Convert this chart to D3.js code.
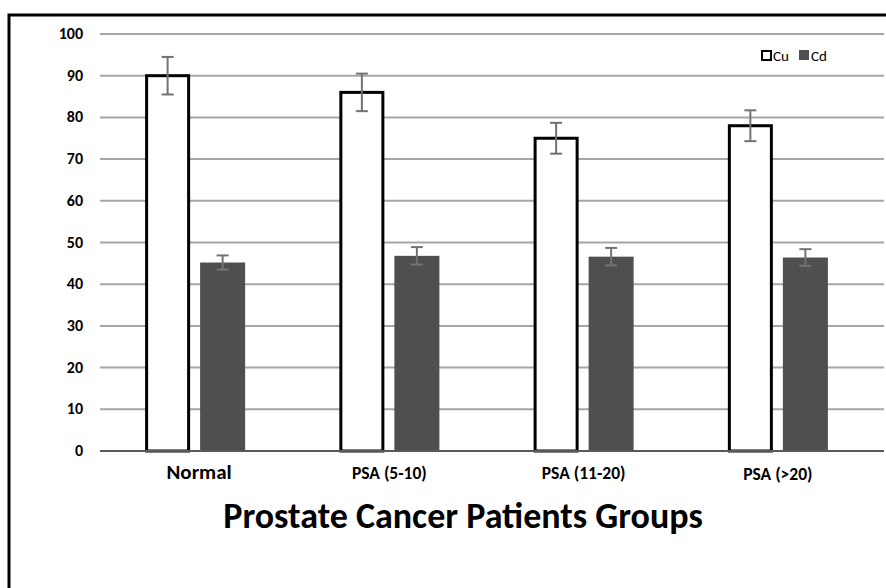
<!DOCTYPE html>
<html>
<head>
<style>
    body { margin: 0; background: #fff; }
    svg text { font-family: Carlito, "Open Sans", sans-serif; font-weight: bold; fill: #000; }
</style>
<script src="https://d3js.org/d3.v7.min.js"></script>
</head>
<body>
<svg width="886" height="588"></svg>
<script>
    var groups = ["Normal", "PSA (5-10)", "PSA (11-20)", "PSA (>20)"];
    var seriesNames = ["Cu", "Cd"];
    var cuValues = [90, 86, 75, 78];
    var cuErrors = [4.5, 4.5, 3.7, 3.7];
    var cdValues = [45.2, 46.8, 46.6, 46.4];
    var cdErrors = [1.7, 2.1, 2.1, 2.0];
    var yTicks = [0, 10, 20, 30, 40, 50, 60, 70, 80, 90, 100];

    var svg = d3.select("svg");

    // frame (right and bottom edges fall outside the picture)
    svg.append("path")
        .attr("d", "M9,600 L9,15 L890,15")
        .attr("fill", "none")
        .attr("stroke", "#000")
        .attr("stroke-width", 3);

    var x0 = d3.scaleBand().domain(groups).range([98, 875]).paddingInner(0.485).paddingOuter(0.2425);
    var x1 = d3.scaleBand().domain(seriesNames).range([0, x0.bandwidth()]).paddingInner(0.1818);
    var y = d3.scaleLinear().domain([0, 100]).range([451, 34]);

    // gridlines
    svg.append("g").selectAll("line")
        .data(yTicks.filter(function (d) { return d > 0; }))
        .enter().append("line")
        .attr("x1", 100).attr("x2", 884)
        .attr("y1", function (d) { return y(d); })
        .attr("y2", function (d) { return y(d); })
        .attr("stroke", "#a6a6a6")
        .attr("stroke-width", 2);

    // y tick labels
    svg.append("g").selectAll("text")
        .data(yTicks)
        .enter().append("text")
        .attr("x", 83)
        .attr("y", function (d) { return y(d) + 5; })
        .attr("text-anchor", "end")
        .style("font-size", "16px")
        .text(function (d) { return d; });

    var data = groups.map(function (g, i) {
        return [
            { group: g, key: "Cu", value: cuValues[i], err: cuErrors[i] },
            { group: g, key: "Cd", value: cdValues[i], err: cdErrors[i] }
        ];
    });

    var bars = svg.append("g");
    data.forEach(function (pair) {
        pair.forEach(function (d) {
            var bx = x0(d.group) + x1(d.key);
            if (d.key === "Cu") {
                bars.append("rect")
                    .attr("x", bx + 1.5)
                    .attr("y", y(d.value))
                    .attr("width", x1.bandwidth() - 3)
                    .attr("height", y(0) - y(d.value))
                    .attr("fill", "#fff")
                    .attr("stroke", "#000")
                    .attr("stroke-width", 3);
            } else {
                bars.append("rect")
                    .attr("x", bx)
                    .attr("y", y(d.value))
                    .attr("width", x1.bandwidth())
                    .attr("height", y(0) - y(d.value))
                    .attr("fill", "#4f4f51");
            }
        });
    });

    // x axis line
    svg.append("line")
        .attr("x1", 100).attr("x2", 884)
        .attr("y1", y(0)).attr("y2", y(0))
        .attr("stroke", "#595959")
        .attr("stroke-width", 2);

    // error bars
    var errs = svg.append("g").attr("stroke", "#737373").attr("stroke-width", 2);
    data.forEach(function (pair) {
        pair.forEach(function (d) {
            var cx = x0(d.group) + x1(d.key) + x1.bandwidth() / 2;
            errs.append("line").attr("x1", cx).attr("x2", cx)
                .attr("y1", y(d.value + d.err)).attr("y2", y(d.value - d.err));
            [d.value + d.err, d.value - d.err].forEach(function (v) {
                errs.append("line").attr("x1", cx - 6).attr("x2", cx + 6)
                    .attr("y1", y(v)).attr("y2", y(v));
            });
        });
    });

    // x labels
    svg.append("g").selectAll("text")
        .data(groups)
        .enter().append("text")
        .attr("x", function (d, i) { return x0(d) + x0.bandwidth() / 2 + (i === 0 ? 4 : 0); })
        .attr("y", function (d, i) { return i === 3 ? 480 : 479; })
        .attr("text-anchor", "middle")
        .style("font-size", function (d, i) { return i === 0 ? "21px" : "17.5px"; })
        .text(function (d) { return d; });

    // axis title
    svg.append("text")
        .attr("x", 463)
        .attr("y", 528)
        .attr("text-anchor", "middle")
        .style("font-size", "36px")
        .text("Prostate Cancer Patients Groups");

    // legend
    var legend = svg.append("g");
    legend.append("rect").attr("x", 762).attr("y", 51).attr("width", 9).attr("height", 9)
        .attr("fill", "#fff").attr("stroke", "#000").attr("stroke-width", 2);
    legend.append("text").attr("x", 773).attr("y", 61).style("font-size", "15px")
        .style("font-weight", "normal").text("Cu");
    legend.append("rect").attr("x", 799).attr("y", 50).attr("width", 10).attr("height", 10)
        .attr("fill", "#4f4f51");
    legend.append("text").attr("x", 811).attr("y", 61).style("font-size", "15px")
        .style("font-weight", "normal").text("Cd");
</script>
</body>
</html>
